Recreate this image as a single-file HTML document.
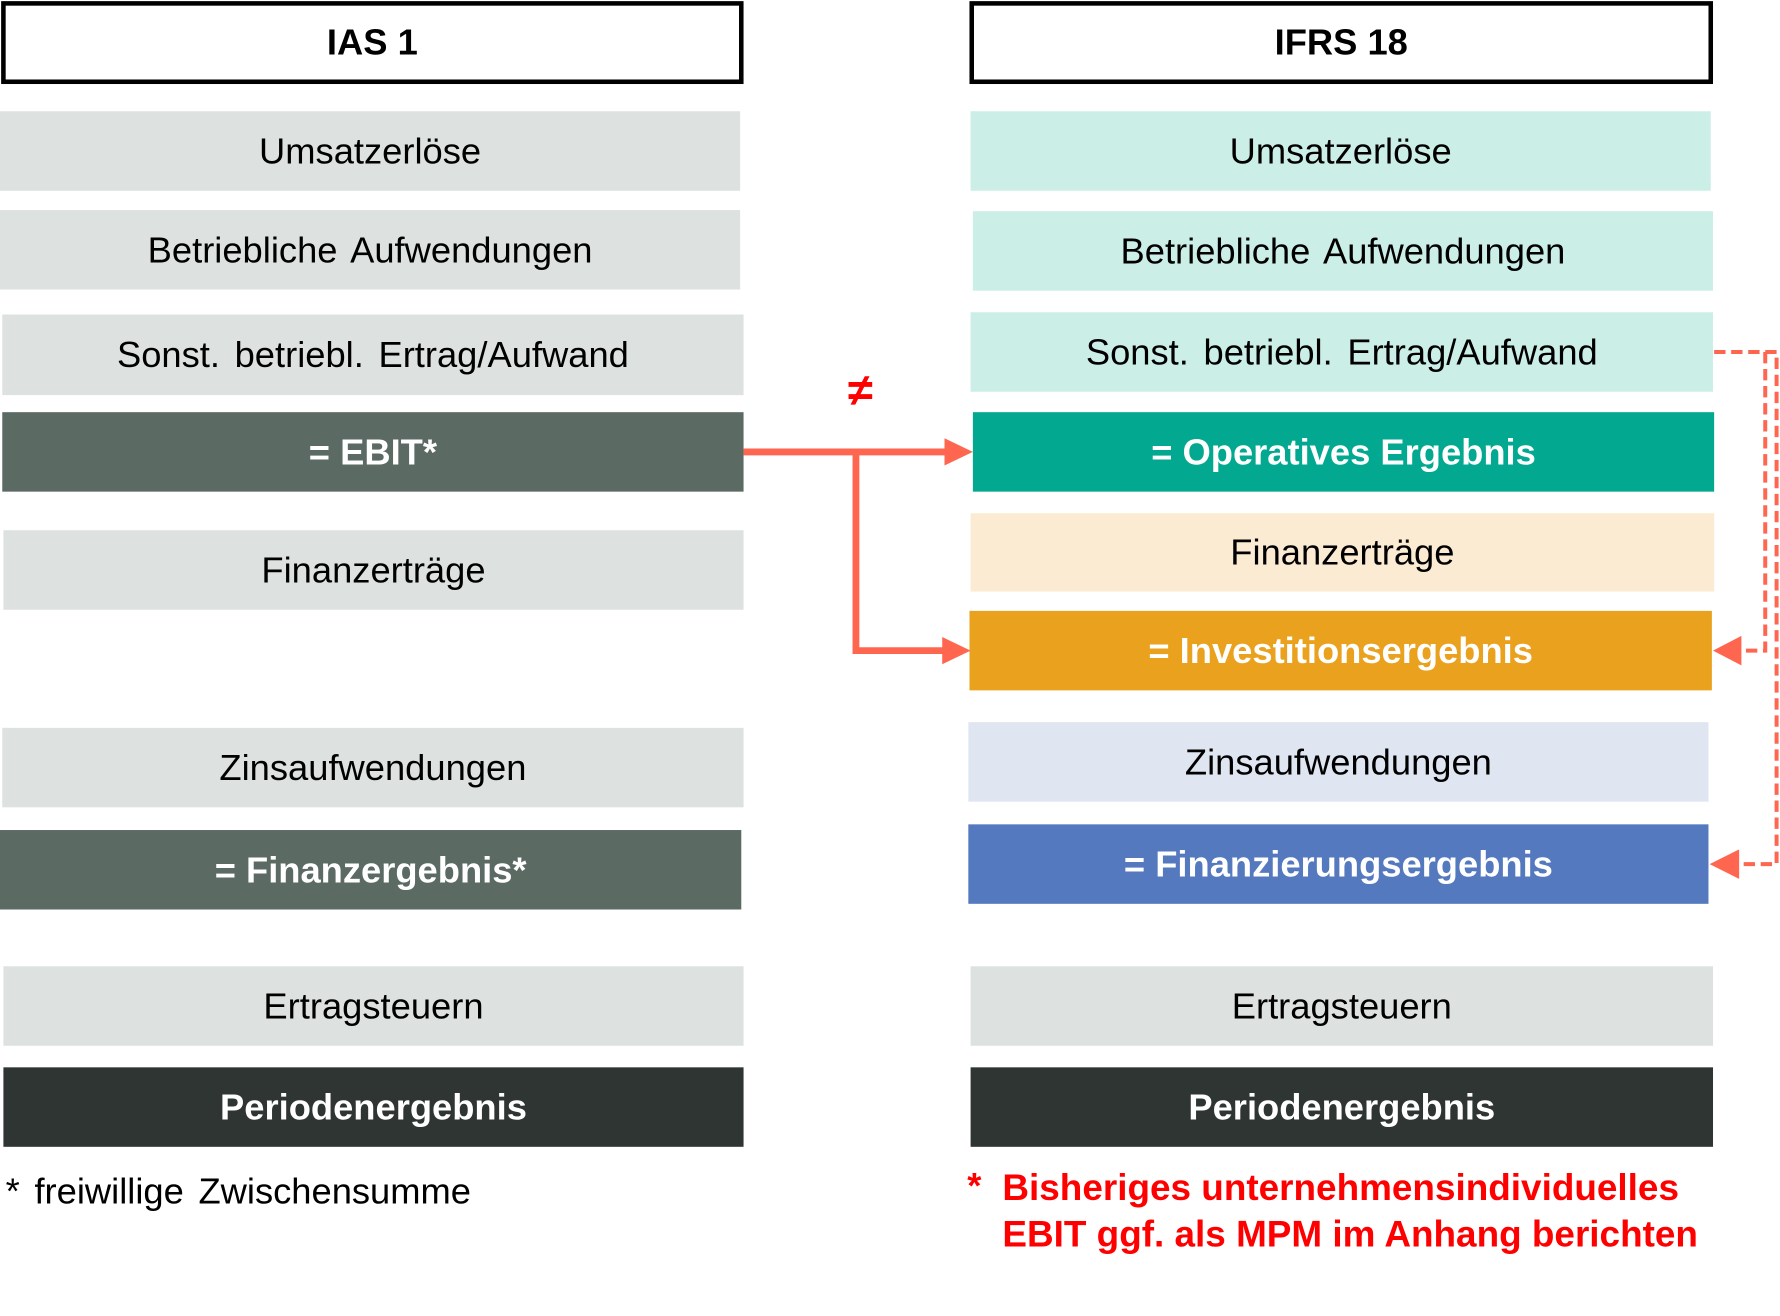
<!DOCTYPE html>
<html><head><meta charset="utf-8">
<style>
html,body{margin:0;padding:0;background:#fff;}
body{width:1780px;height:1316px;overflow:hidden;position:relative;}
#c{position:absolute;left:0;top:0;width:1568px;height:1159px;transform-origin:0 0;transform:scale(1.13520,1.13546);font-family:"Liberation Sans",Arial,sans-serif;}
.b{position:absolute;display:flex;align-items:center;justify-content:center;font-size:32px;color:#000;box-sizing:border-box;white-space:nowrap;}
.g{background:#dde1e0;}
.d{background:#5c6a64;color:#fff;font-weight:bold;}
.k{background:#2e3532;color:#fff;font-weight:bold;}
.h{border:4px solid #000;background:#fff;font-weight:bold;}
.t{position:absolute;font-size:32px;white-space:nowrap;}
.w{word-spacing:4px;}
</style></head><body><div id="c">
<div class="b h" style="left:1px;top:1px;width:654px;height:73px">IAS 1</div>
<div class="b h" style="left:854px;top:1px;width:655px;height:73px">IFRS 18</div>

<div class="b g" style="left:0;top:98px;width:652px;height:70px">Umsatzerlöse</div>
<div class="b g w" style="left:0;top:185px;width:652px;height:70px">Betriebliche Aufwendungen</div>
<div class="b g w" style="left:2px;top:277px;width:653px;height:71px">Sonst. betriebl. Ertrag/Aufwand</div>
<div class="b d" style="left:2px;top:363px;width:653px;height:70px">= EBIT*</div>
<div class="b g" style="left:3px;top:467px;width:652px;height:70px">Finanzerträge</div>
<div class="b g" style="left:2px;top:641px;width:653px;height:70px">Zinsaufwendungen</div>
<div class="b d" style="left:0;top:731px;width:653px;height:70px">= Finanzergebnis*</div>
<div class="b g" style="left:3px;top:851px;width:652px;height:70px">Ertragsteuern</div>
<div class="b k" style="left:3px;top:940px;width:652px;height:70px">Periodenergebnis</div>

<div class="b" style="left:855px;top:98px;width:652px;height:70px;background:#cbeee6">Umsatzerlöse</div>
<div class="b w" style="left:857px;top:186px;width:652px;height:70px;background:#cbeee6">Betriebliche Aufwendungen</div>
<div class="b w" style="left:855px;top:275px;width:654px;height:70px;background:#cbeee6">Sonst. betriebl. Ertrag/Aufwand</div>
<div class="b" style="left:857px;top:363px;width:653px;height:70px;background:#02a88f;color:#fff;font-weight:bold">= Operatives Ergebnis</div>
<div class="b" style="left:855px;top:452px;width:655px;height:69px;background:#fcebd3">Finanzerträge</div>
<div class="b" style="left:854px;top:538px;width:654px;height:70px;background:#eaa21e;color:#fff;font-weight:bold">= Investitionsergebnis</div>
<div class="b" style="left:853px;top:636px;width:652px;height:70px;background:#dfe5f1">Zinsaufwendungen</div>
<div class="b" style="left:853px;top:726px;width:652px;height:70px;background:#5579be;color:#fff;font-weight:bold">= Finanzierungsergebnis</div>
<div class="b g" style="left:855px;top:851px;width:654px;height:70px">Ertragsteuern</div>
<div class="b k" style="left:855px;top:940px;width:654px;height:70px">Periodenergebnis</div>

<div class="t w" style="left:5px;top:1031px">* freiwillige Zwischensumme</div>
<div class="t" style="left:852px;top:1026px;color:#f00;font-weight:bold">*</div>
<div class="t" style="left:883px;top:1026px;color:#f00;font-weight:bold;line-height:41px;font-size:32.5px">Bisheriges unternehmensindividuelles<br>EBIT ggf. als MPM im Anhang berichten</div>
<div class="t" style="left:747px;top:322px;color:#f00;font-weight:bold;font-size:40px">≠</div>

<svg width="1568" height="1159" style="position:absolute;left:0;top:0">
<g fill="none" stroke="#ff6650" stroke-width="6">
<path d="M655 398 H836"/>
<path d="M754 398 V573 H834"/>
</g>
<polygon points="832,386 857,398 832,410" fill="#ff6650"/>
<polygon points="830,561 855,573 830,585" fill="#ff6650"/>
<g fill="none" stroke="#ff6650" stroke-width="3.5" stroke-dasharray="10,5">
<path d="M1510 310 H1565 V761 H1530"/>
<path d="M1555 310 V573 H1530"/>
</g>
<polygon points="1534,560 1509,573 1534,586" fill="#ff6650"/>
<polygon points="1532,748 1506,761 1532,774" fill="#ff6650"/>
</svg>
</div></body></html>
